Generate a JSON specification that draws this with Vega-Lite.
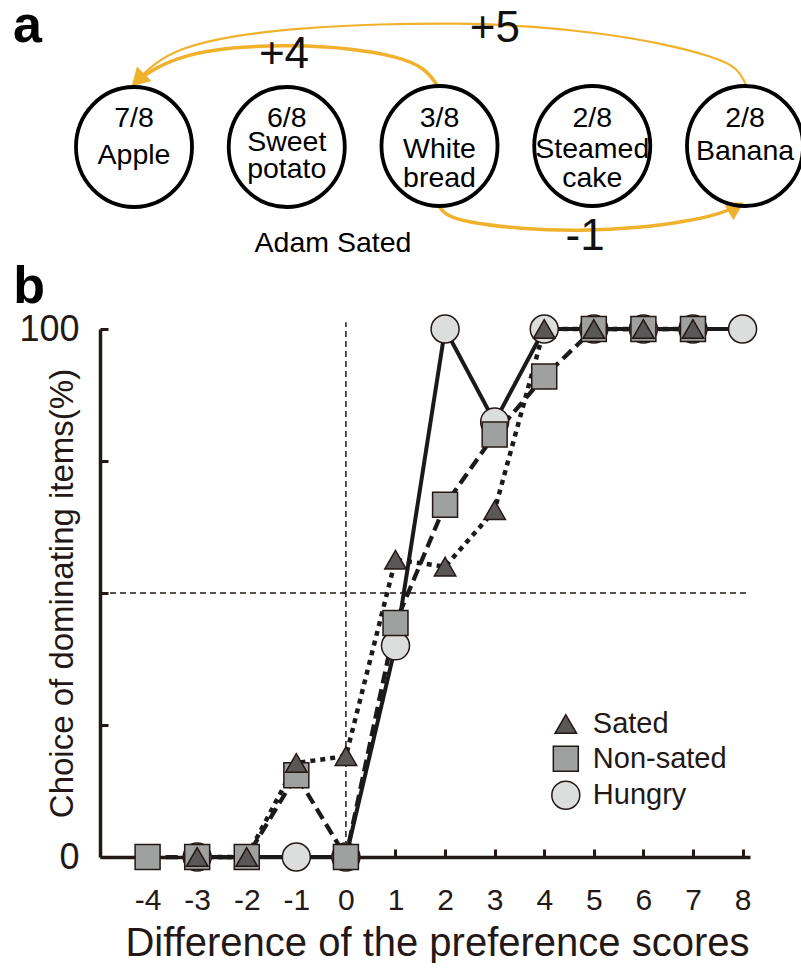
{
  "$schema": "https://vega.github.io/schema/vega-lite/v6.json",
  "background": "white",
  "padding": {"left": 13, "top": 0, "right": 0, "bottom": 0},
  "spacing": 0,
  "config": {"view": {"stroke": null}, "font": "Liberation Sans"},
  "vconcat": [
    {
      "width": 650,
      "height": 261,
      "encoding": {
        "x": {"field": "x", "type": "quantitative", "scale": {"domain": [0.7774, 5.0327], "nice": false, "zero": false}, "axis": null},
        "y": {"field": "y", "type": "quantitative", "scale": {"domain": [4.9, 31], "nice": false, "zero": false}, "axis": null}
      },
      "layer": [
        {
          "data": {"values": [
            {"curve": "+4", "k": 1, "x": 2.984, "y": 22.5},
            {"curve": "+4", "k": 2, "x": 2.905, "y": 24.2},
            {"curve": "+4", "k": 3, "x": 2.741, "y": 25.3},
            {"curve": "+4", "k": 4, "x": 2.414, "y": 26.2},
            {"curve": "+4", "k": 5, "x": 2.021, "y": 26.5},
            {"curve": "+4", "k": 6, "x": 1.628, "y": 26.3},
            {"curve": "+4", "k": 7, "x": 1.334, "y": 25.5},
            {"curve": "+4", "k": 8, "x": 1.137, "y": 24.2},
            {"curve": "+4", "k": 9, "x": 1.026, "y": 23.0}
          ]},
          "mark": {"type": "line", "interpolate": "basis", "stroke": "#F0B12C", "strokeWidth": 3.5},
          "encoding": {"order": {"field": "k", "type": "quantitative"}}
        },
        {
          "data": {"values": [
            {"curve": "+5", "k": 1, "x": 5.007, "y": 22.5},
            {"curve": "+5", "k": 2, "x": 4.954, "y": 24.2},
            {"curve": "+5", "k": 3, "x": 4.804, "y": 25.3},
            {"curve": "+5", "k": 4, "x": 4.444, "y": 26.7},
            {"curve": "+5", "k": 5, "x": 4.051, "y": 27.7},
            {"curve": "+5", "k": 6, "x": 3.592, "y": 28.4},
            {"curve": "+5", "k": 7, "x": 3.134, "y": 28.7},
            {"curve": "+5", "k": 8, "x": 2.610, "y": 28.6},
            {"curve": "+5", "k": 9, "x": 2.087, "y": 28.2},
            {"curve": "+5", "k": 10, "x": 1.628, "y": 27.4},
            {"curve": "+5", "k": 11, "x": 1.301, "y": 26.2},
            {"curve": "+5", "k": 12, "x": 1.118, "y": 24.5},
            {"curve": "+5", "k": 13, "x": 1.026, "y": 23.0}
          ]},
          "mark": {"type": "line", "interpolate": "basis", "stroke": "#F0B12C", "strokeWidth": 2.2},
          "encoding": {"order": {"field": "k", "type": "quantitative"}}
        },
        {
          "data": {"values": [
            {"curve": "-1", "k": 1, "x": 2.990, "y": 10.5},
            {"curve": "-1", "k": 2, "x": 3.036, "y": 9.5},
            {"curve": "-1", "k": 3, "x": 3.167, "y": 8.8},
            {"curve": "-1", "k": 4, "x": 3.527, "y": 8.1},
            {"curve": "-1", "k": 5, "x": 3.920, "y": 7.9},
            {"curve": "-1", "k": 6, "x": 4.313, "y": 8.2},
            {"curve": "-1", "k": 7, "x": 4.640, "y": 8.9},
            {"curve": "-1", "k": 8, "x": 4.849, "y": 9.7},
            {"curve": "-1", "k": 9, "x": 4.941, "y": 10.3}
          ]},
          "mark": {"type": "line", "interpolate": "basis", "stroke": "#F0B12C", "strokeWidth": 3.5},
          "encoding": {"order": {"field": "k", "type": "quantitative"}}
        },
        {
          "data": {"values": [{"head": "to Apple", "x": 1.026, "y": 23.0}]},
          "mark": {"type": "point", "shape": "triangle-down", "filled": true, "fill": "#F0B12C", "opacity": 1, "size": 420, "angle": 45}
        },
        {
          "data": {"values": [{"head": "to Banana", "x": 4.941, "y": 10.3}]},
          "mark": {"type": "point", "shape": "triangle-down", "filled": true, "fill": "#F0B12C", "opacity": 1, "size": 420, "angle": 240}
        },
        {
          "data": {"values": [
            {"item": "Apple", "x": 1, "y": 16.3},
            {"item": "Sweet potato", "x": 2, "y": 16.3},
            {"item": "White bread", "x": 3, "y": 16.4},
            {"item": "Steamed cake", "x": 4, "y": 16.4},
            {"item": "Banana", "x": 5, "y": 16.4}
          ]},
          "mark": {"type": "point", "shape": "M0,-1C0.534,-1 0.967,-0.552 0.967,0C0.967,0.552 0.534,1 0,1C-0.534,1 -0.967,0.552 -0.967,0C-0.967,-0.552 -0.534,-1 0,-1Z", "size": 14400, "filled": false, "stroke": "#000000", "strokeWidth": 3.8, "opacity": 1}
        },
        {
          "data": {"values": [
            {"t": "7/8", "x": 1, "y": 18.3},
            {"t": "Apple", "x": 1, "y": 14.6},
            {"t": "6/8", "x": 2, "y": 18.3},
            {"t": "Sweet", "x": 2, "y": 15.9},
            {"t": "potato", "x": 2, "y": 13.2},
            {"t": "3/8", "x": 3, "y": 18.3},
            {"t": "White", "x": 3, "y": 15.2},
            {"t": "bread", "x": 3, "y": 12.3},
            {"t": "2/8", "x": 4, "y": 18.3},
            {"t": "Steamed", "x": 4, "y": 15.2},
            {"t": "cake", "x": 4, "y": 12.3},
            {"t": "2/8", "x": 5, "y": 18.3},
            {"t": "Banana", "x": 5, "y": 15.0}
          ]},
          "mark": {"type": "text", "fontSize": 28.5, "align": "center", "baseline": "alphabetic", "color": "#000000"},
          "encoding": {"text": {"field": "t"}}
        },
        {
          "data": {"values": [
            {"t": "+4", "x": 1.982, "y": 24.2},
            {"t": "+5", "x": 3.363, "y": 26.8},
            {"t": "-1", "x": 3.953, "y": 6.0}
          ]},
          "mark": {"type": "text", "fontSize": 44, "align": "center", "baseline": "alphabetic", "color": "#111111"},
          "encoding": {"text": {"field": "t"}}
        },
        {
          "data": {"values": [{"t": "Adam Sated", "x": 2.303, "y": 5.8}]},
          "mark": {"type": "text", "fontSize": 28.5, "align": "center", "baseline": "alphabetic", "color": "#000000"},
          "encoding": {"text": {"field": "t"}}
        },
        {
          "data": {"values": [{"t": "a", "x": 0.303, "y": 26.8}]},
          "mark": {"type": "text", "fontSize": 52, "fontWeight": "bold", "align": "center", "baseline": "alphabetic", "color": "#000000"},
          "encoding": {"text": {"field": "t"}}
        }
      ]
    },
    {
      "width": 650,
      "height": 528,
      "encoding": {
        "x": {
          "field": "d", "type": "quantitative",
          "scale": {"domain": [-4.96, 8.15], "nice": false, "zero": false},
          "axis": {
            "values": [-4, -3, -2, -1, 0, 1, 2, 3, 4, 5, 6, 7, 8],
            "labelExpr": "'' + datum.value",
            "title": "Difference of the preference scores",
            "titleFontSize": 40, "titleFontWeight": "normal", "titleColor": "#231815", "titlePadding": 8, "titleX": 337,
            "labelFontSize": 30, "labelColor": "#231815", "labelPadding": 36, "labelFlush": false, "labelOverlap": false,
            "tickSize": -8, "tickWidth": 3, "tickColor": "#231815",
            "domainWidth": 3.5, "domainColor": "#231815", "grid": false
          }
        },
        "y": {
          "field": "p", "type": "quantitative",
          "scale": {"domain": [0, 100], "nice": false, "zero": false},
          "axis": {
            "values": [0, 25, 50, 75, 100],
            "labelExpr": "datum.value == 0 || datum.value == 100 ? datum.label : ''",
            "title": "Choice of dominating items(%)",
            "titleFontSize": 33, "titleFontWeight": "normal", "titleColor": "#231815",
            "titleX": -38, "titleY": 264, "titleAngle": -90, "titleAlign": "center", "titleBaseline": "middle",
            "labelFontSize": 36, "labelColor": "#231815", "labelPadding": 29, "labelFlush": false, "labelOverlap": false,
            "tickSize": -8, "tickWidth": 3, "tickColor": "#231815",
            "domainWidth": 3.5, "domainColor": "#231815", "grid": false
          }
        }
      },
      "layer": [
        {
          "data": {"values": [{"t": "b", "d": -6.39, "p": 104.9}]},
          "mark": {"type": "text", "fontSize": 52, "fontWeight": "bold", "align": "center", "baseline": "alphabetic", "color": "#000000"},
          "encoding": {"text": {"field": "t"}}
        },
        {
          "data": {"values": [{"d": 0, "p": 0, "p2": 101.3}]},
          "mark": {"type": "rule", "strokeDash": [6, 4], "strokeWidth": 1.5, "color": "#231815"},
          "encoding": {"y2": {"field": "p2"}}
        },
        {
          "data": {"values": [{"d": -4.96, "d2": 8.1, "p": 50}]},
          "mark": {"type": "rule", "strokeDash": [6, 4], "strokeWidth": 1.5, "color": "#231815"},
          "encoding": {"x2": {"field": "d2"}}
        },
        {
          "data": {"name": "main", "values": [
            {"group": "Hungry", "d": -3, "p": 0},
            {"group": "Hungry", "d": -1, "p": 0},
            {"group": "Hungry", "d": 0, "p": 0},
            {"group": "Hungry", "d": 1, "p": 40},
            {"group": "Hungry", "d": 2, "p": 100},
            {"group": "Hungry", "d": 3, "p": 82.4},
            {"group": "Hungry", "d": 4, "p": 100},
            {"group": "Hungry", "d": 5, "p": 100},
            {"group": "Hungry", "d": 6, "p": 100},
            {"group": "Hungry", "d": 7, "p": 100},
            {"group": "Hungry", "d": 8, "p": 100},
            {"group": "Non-sated", "d": -4, "p": 0},
            {"group": "Non-sated", "d": -3, "p": 0},
            {"group": "Non-sated", "d": -2, "p": 0},
            {"group": "Non-sated", "d": -1, "p": 15.5},
            {"group": "Non-sated", "d": 0, "p": 0},
            {"group": "Non-sated", "d": 1, "p": 44.3},
            {"group": "Non-sated", "d": 2, "p": 66.7},
            {"group": "Non-sated", "d": 3, "p": 80},
            {"group": "Non-sated", "d": 4, "p": 91},
            {"group": "Non-sated", "d": 5, "p": 100},
            {"group": "Non-sated", "d": 6, "p": 100},
            {"group": "Non-sated", "d": 7, "p": 100},
            {"group": "Sated", "d": -3, "p": 0},
            {"group": "Sated", "d": -2, "p": 0},
            {"group": "Sated", "d": -1, "p": 17.8},
            {"group": "Sated", "d": 0, "p": 19.1},
            {"group": "Sated", "d": 1, "p": 56.3},
            {"group": "Sated", "d": 2, "p": 55},
            {"group": "Sated", "d": 3, "p": 65.7},
            {"group": "Sated", "d": 4, "p": 100},
            {"group": "Sated", "d": 5, "p": 100},
            {"group": "Sated", "d": 6, "p": 100},
            {"group": "Sated", "d": 7, "p": 100}
          ]},
          "mark": {"type": "line", "color": "#1a1a1a"},
          "encoding": {
            "detail": {"field": "group"},
            "strokeDash": {"field": "group", "type": "nominal", "scale": {"domain": ["Hungry", "Non-sated", "Sated"], "range": [[1, 0], [12, 6], [5, 5]]}, "legend": null},
            "strokeWidth": {"field": "group", "type": "nominal", "scale": {"domain": ["Hungry", "Non-sated", "Sated"], "range": [4, 4.5, 5.5]}, "legend": null}
          }
        },
        {
          "data": {"name": "main"},
          "mark": {"type": "point", "filled": true, "opacity": 1, "stroke": "#231815", "strokeWidth": 1.5},
          "encoding": {
            "shape": {"field": "group", "type": "nominal", "scale": {"domain": ["Hungry", "Non-sated", "Sated"], "range": ["circle", "square", "triangle-up"]}, "legend": null},
            "fill": {"field": "group", "type": "nominal", "scale": {"domain": ["Hungry", "Non-sated", "Sated"], "range": ["#dcdddd", "#9fa0a0", "#595757"]}, "legend": null},
            "size": {"field": "group", "type": "nominal", "scale": {"domain": ["Hungry", "Non-sated", "Sated"], "range": [784, 462, 729]}, "legend": null}
          }
        },
        {
          "data": {"name": "leg", "values": [
            {"group": "Sated", "d": 4.435, "p": 25.2, "dl": 4.98},
            {"group": "Non-sated", "d": 4.435, "p": 18.6, "dl": 4.98},
            {"group": "Hungry", "d": 4.435, "p": 11.7, "dl": 4.98}
          ]},
          "mark": {"type": "point", "filled": true, "opacity": 1, "stroke": "#231815", "strokeWidth": 1.5},
          "encoding": {
            "shape": {"field": "group", "type": "nominal", "legend": null},
            "fill": {"field": "group", "type": "nominal", "legend": null},
            "size": {"field": "group", "type": "nominal", "legend": null}
          }
        },
        {
          "data": {"name": "leg"},
          "mark": {"type": "text", "align": "left", "baseline": "middle", "fontSize": 29, "color": "#231815"},
          "encoding": {
            "x": {"field": "dl", "type": "quantitative"},
            "text": {"field": "group"}
          }
        }
      ]
    }
  ]
}
